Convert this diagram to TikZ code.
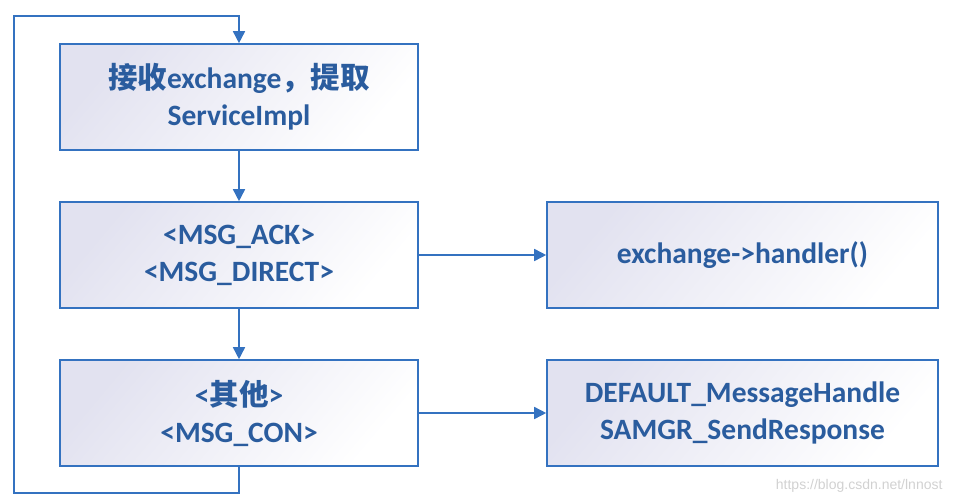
\documentclass[tikz,border=0pt]{standalone}
\usepackage{fontspec}
\setmainfont{Carlito}
\newfontfamily\cjk{Noto Sans CJK SC}
\newfontfamily\wmfont{Liberation Sans}
\usetikzlibrary{arrows.meta}
\definecolor{lineblue}{HTML}{3472C0}
\definecolor{textblue}{HTML}{2A5C9E}
\definecolor{shadeA}{HTML}{E2E2F0}
\tikzset{
  box/.style={draw=lineblue, line width=1.6pt, minimum width=358pt, minimum height=106pt,
    left color=shadeA, right color=white, shading angle=50, inner sep=0pt,
    text=textblue, font=\fontsize{29.5}{37}\selectfont\bfseries, align=center},
  rbox/.style={box, minimum width=391pt},
  conn/.style={draw=lineblue, line width=1.6pt, -{Triangle[width=12pt,length=12pt]}},
  plain/.style={draw=lineblue, line width=1.6pt}
}
\begin{document}
\begin{tikzpicture}[x=1pt,y=-1pt]
\useasboundingbox (0,0) rectangle (955,503);
\node[box] (b1) at (239,97) {{\cjk\bfseries 接收}exchange{\cjk\bfseries ，提取}\\ServiceImpl};
\node[box] (b2) at (239,255) {<MSG\_ACK>\\<MSG\_DIRECT>};
\node[box] (b3) at (239,413) {<{\cjk\bfseries 其他}>\\<MSG\_CON>};
\node[rbox] (r1) at (742.5,255) {exchange->handler()};
\node[rbox] (r2) at (742.5,413) {DEFAULT\_MessageHandle\\SAMGR\_SendResponse};
\coordinate (c1) at (239,493);
\coordinate (c2) at (14,493);
\coordinate (c3) at (14,16);
\coordinate (c4) at (239,16);
\draw[conn] (b1) -- (b2);
\draw[conn] (b2) -- (b3);
\draw[conn] (b2) -- (r1);
\draw[conn] (b3) -- (r2);
\draw[conn] (b3.south) -- (c1) -- (c2) -- (c3) -- (c4) -- (b1.north);
\node[text=black!18, font=\wmfont\fontsize{14}{14}\selectfont, anchor=east] (wm) at (946,486) {https://blog.csdn.net/lnnost};
\end{tikzpicture}
\end{document}
